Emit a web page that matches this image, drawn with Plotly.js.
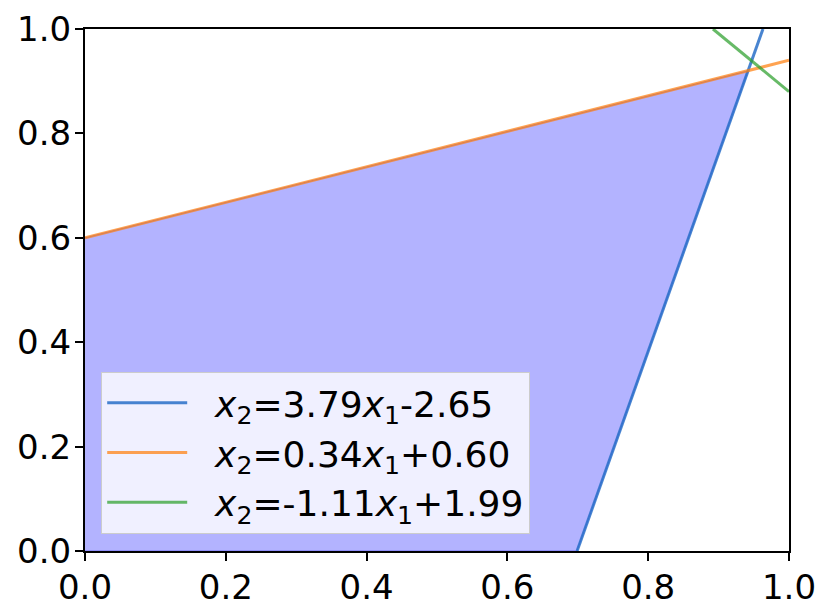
<!DOCTYPE html>
<html><head><meta charset="utf-8">
<script src="https://cdn.plot.ly/plotly-3.0.1.min.js"></script>
<style>body{margin:0;background:#fff}#c{width:831px;height:615px}</style>
</head><body><div id="c"></div>
<script>
// Feasible region polygon vertices
const regionX = [0, 0.699, 0.942, 0];
const regionY = [0, 0, 0.920, 0.600];
// Line endpoints
const blueX = [0.699, 0.963], blueY = [0, 1];
const orangeX = [0, 1], orangeY = [0.60, 0.94];
const greenX = [0.892, 1], greenY = [1, 0.88];
const names = [
  '&nbsp;&nbsp;<i>x</i><sub>2</sub>=3.79<i>x</i><sub>1</sub>-2.65',
  '&nbsp;&nbsp;<i>x</i><sub>2</sub>=0.34<i>x</i><sub>1</sub>+0.60',
  '&nbsp;&nbsp;<i>x</i><sub>2</sub>=-1.11<i>x</i><sub>1</sub>+1.99'
];
const tickVals = [0, 0.2, 0.4, 0.6, 0.8, 1.0];
const tickText = ['0.0', '0.2', '0.4', '0.6', '0.8', '1.0'];

const traces = [
  {x: regionX, y: regionY, type: 'scatter', mode: 'lines', fill: 'toself',
   fillcolor: 'rgb(179,179,255)', line: {width: 1, color: 'rgba(60,60,230,0.6)'}, showlegend: false, hoverinfo: 'skip'},
  {x: blueX, y: blueY, type: 'scatter', mode: 'lines', name: names[0],
   line: {color: 'rgba(40,110,200,0.85)', width: 3}},
  {x: orangeX, y: orangeY, type: 'scatter', mode: 'lines', name: names[1],
   line: {color: 'rgba(255,127,14,0.72)', width: 3}},
  {x: greenX, y: greenY, type: 'scatter', mode: 'lines', name: names[2],
   line: {color: 'rgba(44,160,44,0.72)', width: 3}}
];
const axisCommon = {
  range: [0, 1], tickvals: tickVals, ticktext: tickText,
  ticks: 'outside', ticklen: 8, tickwidth: 2, tickcolor: '#000',
  showline: true, linecolor: '#000', linewidth: 2, mirror: true,
  showgrid: false, zeroline: false, ticklabelstandoff: -3,
  tickfont: {family: 'DejaVu Sans', size: 34, color: '#000'}
};
const layout = {
  width: 831, height: 615,
  margin: {l: 85, r: 42, t: 29, b: 64},
  paper_bgcolor: '#fff', plot_bgcolor: '#fff',
  xaxis: Object.assign({}, axisCommon),
  yaxis: Object.assign({}, axisCommon),
  showlegend: true,
  legend: {
    x: 0.023, y: 0.033, xanchor: 'left', yanchor: 'bottom',
    bgcolor: 'rgba(240,240,255,1)', bordercolor: '#cccccc', borderwidth: 1,
    font: {family: 'DejaVu Sans', size: 36, color: '#000'},
    tracegroupgap: 0, itemwidth: 80
  }
};
Plotly.newPlot('c', traces, layout, {displayModeBar: false, staticPlot: true});
</script></body></html>
